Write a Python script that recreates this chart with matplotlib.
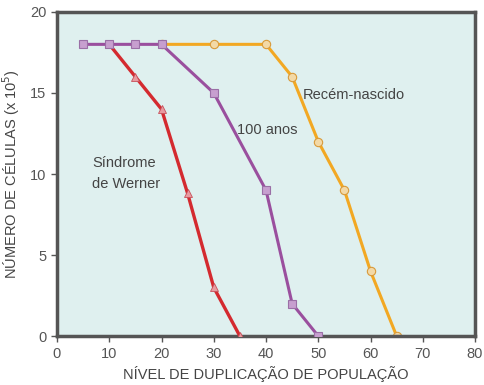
import matplotlib.pyplot as plt

plt.rcParams['font.family'] = ['Liberation Sans', 'DejaVu Sans']

werner_x = [10, 15, 20, 25, 30, 35]
werner_y = [18, 16, 14, 8.8, 3, 0]

old_x = [5, 10, 15, 20, 30, 40, 45, 50]
old_y = [18, 18, 18, 18, 15, 9, 2, 0]

newborn_x = [20, 30, 40, 45, 50, 55, 60, 65]
newborn_y = [18, 18, 18, 16, 12, 9, 4, 0]

fig = plt.figure(figsize=(4.85, 3.85), dpi=100)
ax = fig.add_axes([0.1175, 0.127, 0.862, 0.842])
ax.set_facecolor('#dff0ef')

ax.plot(newborn_x, newborn_y, color='#f2a823', lw=2.2, marker='o', ms=6,
        mfc='#f3d9a6', mec='#d99a3a', mew=0.8, zorder=2)
ax.plot(werner_x, werner_y, color='#d42a2f', lw=2.4, marker='^', ms=6,
        mfc='#e89aa0', mec='#c8505a', mew=0.6, zorder=3)
ax.plot(old_x, old_y, color='#9a4f9e', lw=2.2, marker='s', ms=6,
        mfc='#c79fcf', mec='#9a6fa6', mew=0.8, zorder=4)

txt = dict(fontsize=10.5, color='#444444')
ax.text(6.7, 10.7, 'Síndrome', va='center', ha='left', **txt)
ax.text(6.7, 9.4, 'de Werner', va='center', ha='left', **txt)
ax.text(34.4, 12.7, '100 anos', va='center', ha='left', **txt)
ax.text(47.1, 14.9, 'Recém-nascido', va='center', ha='left', **txt)

ax.set_xlim(0, 80)
ax.set_ylim(0, 20)
ax.set_xticks(range(0, 81, 10))
ax.set_yticks(range(0, 21, 5))
ax.tick_params(colors='#555555', labelsize=10.5, length=4, width=1)
for s in ax.spines.values():
    s.set_color('#555555')
    s.set_linewidth(2.5)

ax.set_xlabel('NÍVEL DE DUPLICAÇÃO DE POPULAÇÃO', fontsize=10.5, color='#444444', labelpad=4)
ax.set_ylabel('NÚMERO DE CÉLULAS (x 10$^5$)', fontsize=10.5, color='#444444', labelpad=6)

plt.savefig('out.png')
